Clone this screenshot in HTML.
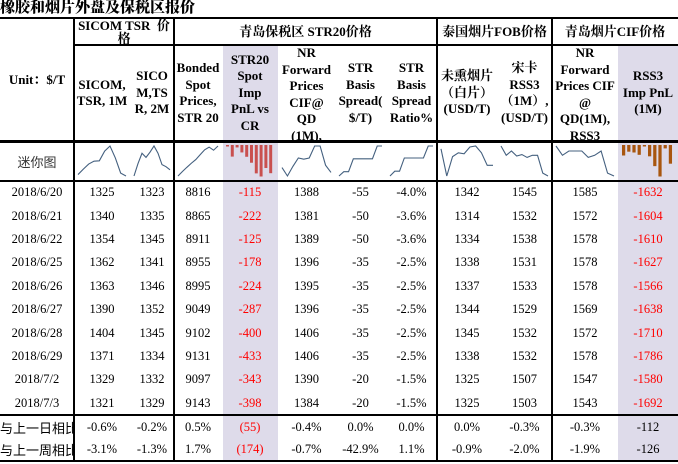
<!DOCTYPE html>
<html><head><meta charset="utf-8">
<style>
body{margin:0;background:#fff;width:678px;height:464px;overflow:hidden;position:relative;font-family:"Liberation Serif","Noto Serif CJK SC",serif;color:#000}
.a{position:absolute;box-sizing:border-box}
.c{display:flex;align-items:center;justify-content:center;text-align:center;overflow:hidden}
.h{font-weight:bold;font-size:13px;line-height:16.5px}
.d{font-size:12.5px}
.hl{background:#000}
.sh{background:#dedbea}
</style></head><body>
<div class="a" style="left:0;top:-2px;font-weight:900;font-size:15px;font-family:'Noto Serif CJK SC','Noto Sans CJK SC',serif;line-height:18px">橡胶和烟片外盘及保税区报价</div>
<div class="a sh" style="left:223px;top:45px;width:55px;height:415px"></div>
<div class="a sh" style="left:618px;top:45px;width:60px;height:415px"></div>
<div id="root"></div>
<script>
const dates=["2018/6/20","2018/6/21","2018/6/22","2018/6/25","2018/6/26","2018/6/27","2018/6/28","2018/6/29","2018/7/2","2018/7/3"];
const sicom1=[1325,1340,1354,1362,1363,1390,1404,1371,1329,1321];
const sicom2=[1323,1335,1345,1341,1346,1352,1345,1334,1332,1329];
const bonded=[8816,8865,8911,8955,8995,9049,9102,9131,9097,9143];
const strPnl=[-115,-222,-125,-178,-224,-287,-400,-433,-343,-398];
const nrFwd=[1388,1381,1389,1396,1395,1396,1406,1406,1390,1384];
const basis=[-55,-50,-50,-35,-35,-35,-35,-35,-20,-20];
const basisPct=[-4.0,-3.6,-3.6,-2.5,-2.5,-2.5,-2.5,-2.5,-1.5,-1.5];
const smoked=[1342,1314,1334,1338,1337,1344,1345,1338,1325,1325];
const songka=[1545,1532,1538,1531,1533,1529,1532,1532,1507,1503];
const cif=[1585,1572,1578,1578,1578,1569,1572,1578,1547,1543];
const rssPnl=[-1632,-1604,-1610,-1627,-1566,-1638,-1710,-1786,-1580,-1692];
const dayChg=["-0.6%","-0.2%","0.5%","(55)","-0.4%","0.0%","0.0%","0.0%","-0.3%","-0.3%","-112"];
const weekChg=["-3.1%","-1.3%","1.7%","(174)","-0.7%","-42.9%","1.1%","-0.9%","-2.0%","-1.9%","-126"];

const X=[0,74,130,174,222,278,335,386,437,497,552,618,678];
const root=document.getElementById('root');
function box(name,l,t,w,h,cls,html,style){
  const e=document.createElement('div');
  e.className='a '+(cls||'');
  
  
  e.style.cssText=`left:${l}px;top:${t}px;width:${w}px;height:${h}px;`+(style||'');
  if(html!=null)e.innerHTML=html;
  root.appendChild(e);return e;
}
box('unit-header',0,19,74,122,'c h','Unit：$/T');
box('group-sicom',74,19,100,26,'h','SICOM TSR&nbsp; 价<br>格','text-align:center;line-height:13px;overflow:hidden;padding:0 4px');
box('group-qingdao-bonded',174,19,263,26,'c h','青岛保税区 STR20价格');
box('group-thai-fob',437,19,115,26,'c h','泰国烟片FOB价格');
box('group-qingdao-cif',552,19,126,26,'c h','青岛烟片CIF价格');
const heads=["SICOM,<br>TSR, 1M","SICO<br>M,TS<br>R, 2M","Bonded<br>Spot<br>Prices,<br>STR 20","STR20<br>Spot<br>Imp<br>PnL vs<br>CR","NR<br>Forward<br>Prices<br>CIF@<br>QD<br>(1M),","STR<br>Basis<br>Spread(<br>$/T)","STR<br>Basis<br>Spread<br>Ratio%","未熏烟片<br>（白片）<br>(USD/T)","宋卡<br>RSS3<br>（1M）,<br>(USD/T)","NR<br>Forward<br>Prices CIF<br>@<br>QD(1M),<br>RSS3","RSS3<br>Imp PnL<br>(1M)"];
const headNames=["sicom-1m","sicom-2m","bonded-spot","str20-pnl","nr-forward","basis-spread","basis-ratio","unsmoked-sheet","songka-rss3","nr-forward-cif","rss3-pnl"];
heads.forEach((t,i)=>{
  const e=box('header-'+headNames[i],X[i+1],46,X[i+2]-X[i+1],94,'c h',t,(i===4||i===9)?'align-items:flex-start;':'');
  if(i===4||i===9){e.innerHTML='<div style="margin-top:-1px">'+t+'</div>';}
});
box('sparkline-label',0,143,74,37,'c','迷你图','font-size:13px;font-family:"Noto Sans CJK SC",sans-serif;color:#333');
const series=[sicom1,sicom2,bonded,strPnl,nrFwd,basis,basisPct,smoked,songka,cif,rssPnl];
const NS='http://www.w3.org/2000/svg';
series.forEach((s,i)=>{
  const l=X[i+1],w=X[i+2]-X[i+1];
  const svg=document.createElementNS(NS,'svg');
  
  
  svg.setAttribute('width',w);svg.setAttribute('height',37);
  svg.style.cssText=`position:absolute;left:${l}px;top:143px`;
  const mn=Math.min(...s),mx=Math.max(...s);
  const px=k=>4+k*(w-8)/(s.length-1);
  if(i===3||i===10){
    const col=i===3?'#c9504f':'#a8560f';
    const bw=(w-8)/s.length*0.62;
    s.forEach((v,k)=>{
      const r=document.createElementNS(NS,'rect');
      
      
      const bx=4+k*(w-8)/s.length;
      const h=1.5+(mx-v)/(mx-mn)*30;
      r.setAttribute('x',bx);r.setAttribute('y',2);r.setAttribute('width',bw);r.setAttribute('height',h);
      r.setAttribute('fill',col);svg.appendChild(r);
    });
  } else {
    const py=v=>33-(v-mn)/(mx-mn||1)*30;
    const p=document.createElementNS(NS,'polyline');
    
    
    p.setAttribute('points',s.map((v,k)=>px(k)+','+py(v)).join(' '));
    p.setAttribute('fill','none');p.setAttribute('stroke','#44607f');p.setAttribute('stroke-width','1.1');
    svg.appendChild(p);
  }
  root.appendChild(svg);
});
const RH=23.4;
const fmt=[v=>v,v=>v,v=>v,v=>v,v=>v,v=>v,v=>v.toFixed(1)+'%',v=>v,v=>v,v=>v,v=>v];
dates.forEach((d,r)=>{
  const t=181+r*RH;
  box('date-'+d,0,t,74,RH,'c d',d);
  series.forEach((s,i)=>{
    const red=(i===3||i===10);
    box('cell-'+headNames[i]+'-'+r,X[i+1],t,X[i+2]-X[i+1],RH,'c d',fmt[i](s[r]),red?'color:#f00;':'');
  });
});
[[dayChg,'与上一日相比','day-change'],[weekChg,'与上一周相比','week-change']].forEach(([arr,lab,nm],r)=>{
  const t=416+r*22;
  box(nm+'-label',0,t,73,22,'d',lab,'display:flex;align-items:center;white-space:nowrap;overflow:hidden;font-family:"Noto Sans CJK SC",sans-serif;font-size:13px;');
  arr.forEach((v,i)=>box(nm+'-'+headNames[i],X[i+1],t,X[i+2]-X[i+1],22,'c d',v,i===3?'color:#f00;':''));
});
function hl(name,l,t,w,h){box(name,l,t,w,h,'hl',null);}
hl('rule-top',0,17,678,2);
hl('rule-group',74,44,604,2);
hl('rule-header',0,140,678,3);
hl('rule-spark',0,180,678,2);
hl('rule-summary',0,414,678,2);
hl('rule-bottom',0,460,678,2);
[74,174,437,552].forEach(x=>hl('vrule',x-1,19,2,441));
</script>
</body></html>
